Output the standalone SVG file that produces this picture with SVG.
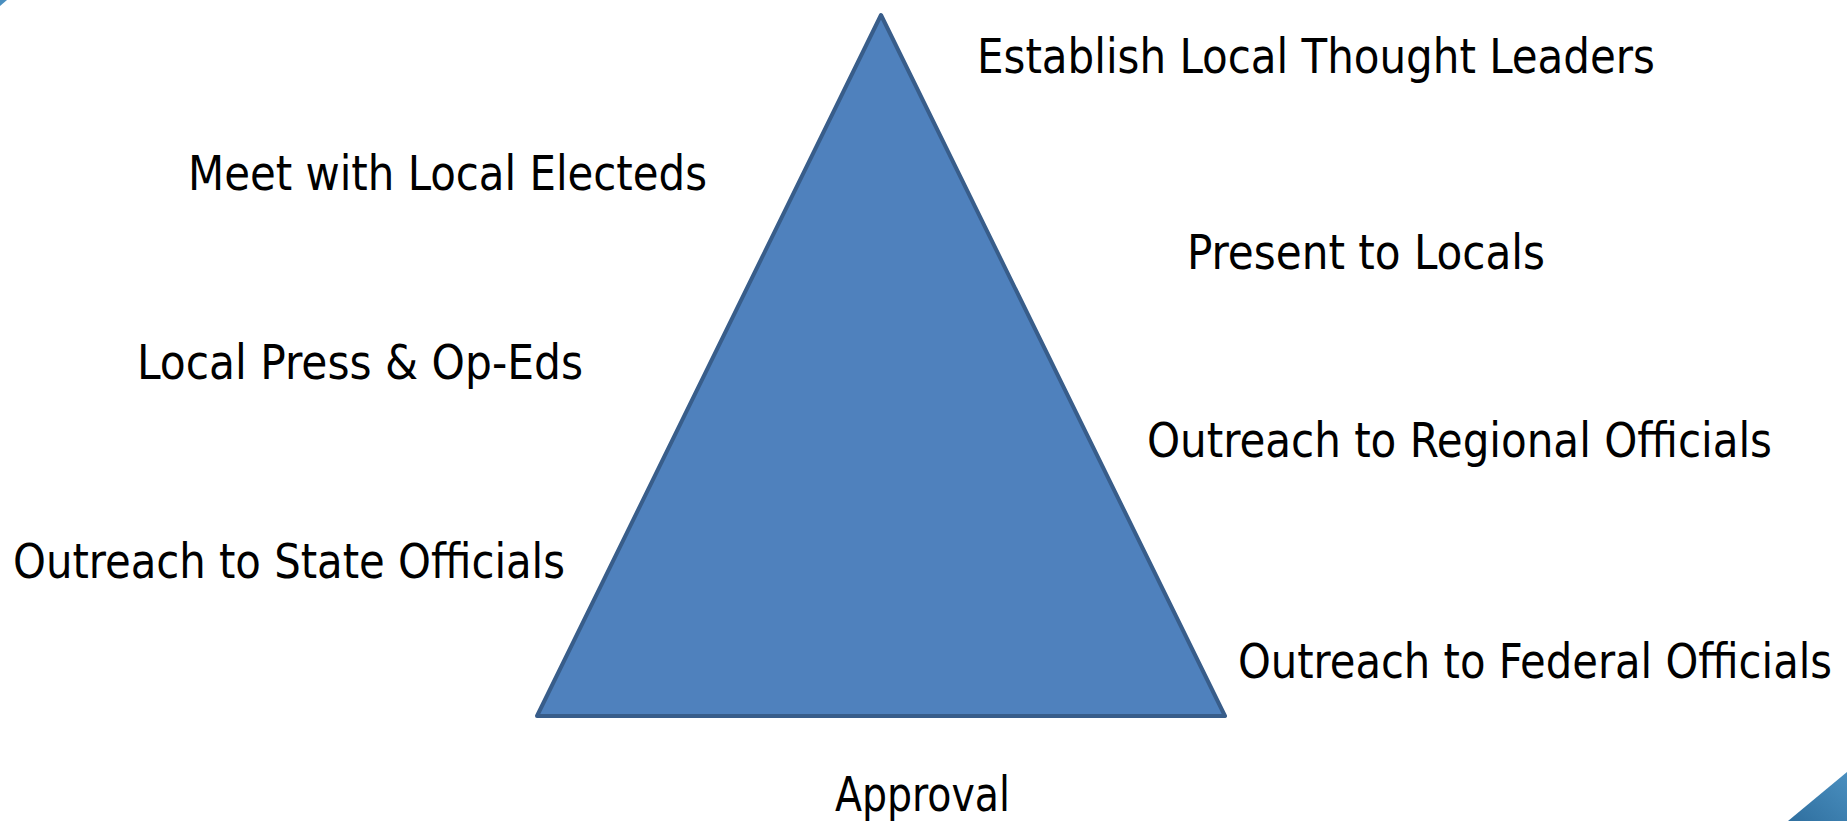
<svg xmlns="http://www.w3.org/2000/svg" width="1847" height="821" viewBox="0 0 1847 821">
  <defs>
    <linearGradient id="cornerFill" x1="0" y1="1" x2="1" y2="0">
      <stop offset="0" stop-color="#2f6f9f"/>
      <stop offset="1" stop-color="#4a8fbf"/>
    </linearGradient>
    <style>
      .label { font-family: "DejaVu Sans Condensed", "DejaVu Sans", Tahoma, sans-serif; font-size: 48px; fill: #000; }
      .pyramid { fill: #4f81bd; stroke: #385d8a; stroke-width: 4; stroke-linejoin: round; }
    </style>
  </defs>
  <rect width="1847" height="821" fill="#ffffff"/>

  <!-- slide corner accents -->
  <polygon points="0,0 7,0 0,6" fill="#4a8fbf"/>
  <polygon points="1788,821 1847,772 1847,821" fill="url(#cornerFill)"/>

  <g id="pyramid">
    <polygon class="pyramid" points="881,15 1225,716 537,716"/>
  </g>

  <g id="label-thought-leaders">
    <text class="label" x="977" y="73" textLength="678" lengthAdjust="spacingAndGlyphs">Establish Local Thought Leaders</text>
  </g>
  <g id="label-local-electeds">
    <text class="label" x="188" y="190" textLength="519" lengthAdjust="spacingAndGlyphs">Meet with Local Electeds</text>
  </g>
  <g id="label-present-locals">
    <text class="label" x="1187" y="269" textLength="358" lengthAdjust="spacingAndGlyphs">Present to Locals</text>
  </g>
  <g id="label-local-press">
    <text class="label" x="137" y="379" textLength="446" lengthAdjust="spacingAndGlyphs">Local Press &amp; Op-Eds</text>
  </g>
  <g id="label-regional">
    <text class="label" x="1147" y="457" textLength="625" lengthAdjust="spacingAndGlyphs">Outreach to Regional Officials</text>
  </g>
  <g id="label-state">
    <text class="label" x="13" y="578" textLength="552" lengthAdjust="spacingAndGlyphs">Outreach to State Officials</text>
  </g>
  <g id="label-federal">
    <text class="label" x="1238" y="678" textLength="594" lengthAdjust="spacingAndGlyphs">Outreach to Federal Officials</text>
  </g>
  <g id="label-approval">
    <text class="label" x="835" y="811" textLength="175" lengthAdjust="spacingAndGlyphs">Approval</text>
  </g>

  <g id="connectors"></g>
</svg>
